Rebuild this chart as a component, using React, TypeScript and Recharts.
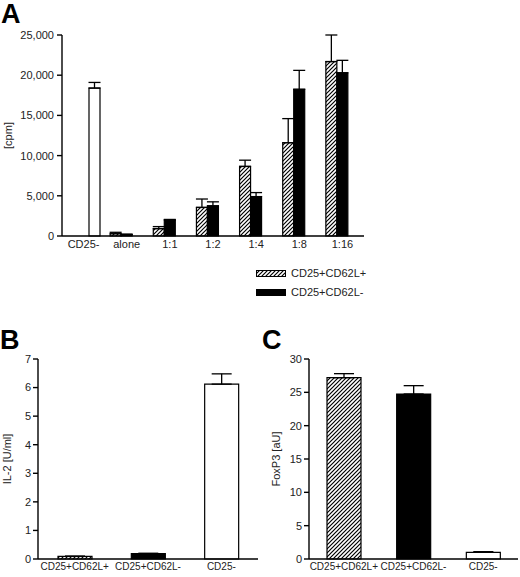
import { Bar, BarChart, Cell, ErrorBar, XAxis, YAxis } from 'recharts';

// Panel A: proliferation [cpm]
const ratioLabels = ['CD25-', 'alone', '1:1', '1:2', '1:4', '1:8', '1:16'];
const plusCpm = [null, 280, 920, 3550, 8650, 11600, 21700];
const plusCpmErr = [null, 180, 250, 1050, 780, 3000, 3300];
const minusCpm = [null, 180, 1980, 3750, 4900, 18250, 20300];
const minusCpmErr = [null, 60, 80, 500, 500, 2350, 1550];
const negCpm = [18400, null, null, null, null, null, null];
const negCpmErr = [700, null, null, null, null, null, null];
const cpmTicks = [0, 5000, 10000, 15000, 20000, 25000];

// Panels B and C
const subsetLabels = ['CD25+CD62L+', 'CD25+CD62L-', 'CD25-'];
const il2 = [0.09, 0.19, 6.12];
const il2Err = [0.01, 0.01, 0.36];
const il2Ticks = [0, 1, 2, 3, 4, 5, 6, 7];
const foxp3 = [27.2, 24.75, 1.0];
const foxp3Err = [0.6, 1.25, 0.1];
const foxp3Ticks = [0, 5, 10, 15, 20, 25, 30];

const FONT = '"Liberation Sans", Arial, sans-serif';
const tick = { fontSize: 11, fill: '#222', fontFamily: FONT };
const xTick = { fontSize: 10, fill: '#222', fontFamily: FONT };
const axisStroke = { stroke: '#000', strokeWidth: 1.4 };

const up = (e: number | null) => (e == null ? null : [0, e]);

const cpmData = ratioLabels.map((label, i) => ({
  label,
  plus: plusCpm[i],
  plusErr: up(plusCpmErr[i]),
  minus: minusCpm[i],
  minusErr: up(minusCpmErr[i]),
  neg: negCpm[i],
  negErr: up(negCpmErr[i]),
}));

const il2Data = subsetLabels.map((label, i) => ({ label, value: il2[i], err: up(il2Err[i]) }));
const foxData = subsetLabels.map((label, i) => ({ label, value: foxp3[i], err: up(foxp3Err[i]) }));

const fills = (id: string) => [`url(#${id})`, '#000', '#fff'];

function Hatch({ id }: { id: string }) {
  return (
    <defs>
      <pattern id={id} patternUnits="userSpaceOnUse" width={4} height={4}>
        <rect width={4} height={4} fill="#fff" />
        <path d="M-1,1 l2,-2 M0,4 l4,-4 M3,5 l2,-2" stroke="#000" strokeWidth={1.2} />
      </pattern>
    </defs>
  );
}

function yTitle(text: string, dx: number) {
  return {
    content: (p: any) => {
      const vb = p.viewBox || {};
      const x = (vb.x ?? 0) + dx;
      const y = (vb.y ?? 0) + (vb.height ?? 0) / 2;
      return (
        <text
          x={x}
          y={y}
          transform={`rotate(-90 ${x} ${y})`}
          textAnchor="middle"
          dominantBaseline="central"
          fontSize={11}
          fontFamily={FONT}
          fill="#222"
        >
          {text}
        </text>
      );
    },
  };
}

const letter = (ch: string, left: number, top: number) => (
  <div
    style={{
      position: 'absolute',
      left,
      top,
      fontFamily: FONT,
      fontWeight: 700,
      fontSize: 27,
      lineHeight: 1,
      color: '#000',
    }}
  >
    {ch}
  </div>
);

function SubsetChart({
  id,
  data,
  ticks,
  max,
  yWidth,
  title,
  titleDx,
}: {
  id: string;
  data: { label: string; value: number; err: number[] | null }[];
  ticks: number[];
  max: number;
  yWidth: number;
  title: string;
  titleDx: number;
}) {
  const f = fills(id);
  return (
    <BarChart width={260} height={277} data={data} margin={{ top: 59, right: 2, bottom: 0, left: 0 }}>
      <Hatch id={id} />
      <XAxis
        dataKey="label"
        stroke="#000"
        tickLine={false}
        tickSize={0}
        tickMargin={4}
        height={18}
        interval={0}
        axisLine={axisStroke}
        tick={xTick}
      />
      <YAxis
        width={yWidth}
        stroke="#000"
        domain={[0, max]}
        ticks={ticks}
        interval={0}
        tickSize={5}
        tickMargin={2}
        axisLine={axisStroke}
        tickLine={axisStroke}
        tick={tick}
        label={yTitle(title, titleDx)}
      />
      <Bar dataKey="value" barSize={34} stroke="#000" strokeWidth={1.2} isAnimationActive={false}>
        {data.map((d, i) => (
          <Cell key={d.label} fill={f[i]} />
        ))}
        <ErrorBar dataKey="err" width={10} stroke="#000" strokeWidth={1.3} direction="y" />
      </Bar>
    </BarChart>
  );
}

export default function App() {
  return (
    <div style={{ position: 'absolute', left: 0, top: 0, width: 520, height: 577, background: '#fff', fontFamily: FONT }}>
      {letter('A', 1, 1)}
      <div style={{ position: 'absolute', left: 0, top: 0 }}>
        <BarChart
          width={380}
          height={260}
          data={cpmData}
          barGap={0}
          margin={{ top: 35, right: 16, bottom: 4, left: 0 }}
        >
          <Hatch id="hatchA" />
          <XAxis
            dataKey="label"
            stroke="#000"
            tickLine={false}
            tickSize={0}
            tickMargin={4}
            height={20}
            interval={0}
            axisLine={axisStroke}
            tick={tick}
          />
          <YAxis
            width={62}
            stroke="#000"
            domain={[0, 25000]}
            ticks={cpmTicks}
            interval={0}
            tickSize={5}
            tickMargin={3}
            axisLine={axisStroke}
            tickLine={axisStroke}
            tick={tick}
            tickFormatter={(v: number) => v.toLocaleString('en-US')}
            label={yTitle('[cpm]', 8)}
          />
          <Bar dataKey="plus" barSize={11} fill="url(#hatchA)" stroke="#000" strokeWidth={1.2} isAnimationActive={false}>
            <ErrorBar dataKey="plusErr" width={6} stroke="#000" strokeWidth={1.3} direction="y" />
          </Bar>
          <Bar dataKey="minus" barSize={11} fill="#000" stroke="#000" strokeWidth={1.2} isAnimationActive={false}>
            <ErrorBar dataKey="minusErr" width={6} stroke="#000" strokeWidth={1.3} direction="y" />
          </Bar>
          <Bar dataKey="neg" barSize={11} fill="#fff" stroke="#000" strokeWidth={1.2} isAnimationActive={false}>
            <ErrorBar dataKey="negErr" width={6} stroke="#000" strokeWidth={1.3} direction="y" />
          </Bar>
        </BarChart>
      </div>

      <div style={{ position: 'absolute', left: 256, top: 264, fontSize: 11, color: '#222', lineHeight: '19px' }}>
        <div style={{ display: 'flex', alignItems: 'center' }}>
          <svg width={31} height={8} style={{ marginRight: 4 }}>
            <Hatch id="hatchLeg" />
            <rect x={0.5} y={0.5} width={29} height={6} fill="url(#hatchLeg)" stroke="#000" />
          </svg>
          <span>CD25+CD62L+</span>
        </div>
        <div style={{ display: 'flex', alignItems: 'center' }}>
          <svg width={31} height={8} style={{ marginRight: 4 }}>
            <rect x={0.5} y={0.5} width={29} height={6} fill="#000" stroke="#000" />
          </svg>
          <span>CD25+CD62L-</span>
        </div>
      </div>

      {letter('B', 0, 327)}
      <div style={{ position: 'absolute', left: 0, top: 300 }}>
        <SubsetChart id="hatchB" data={il2Data} ticks={il2Ticks} max={7} yWidth={38} title="IL-2 [U/ml]" titleDx={7} />
      </div>

      {letter('C', 262, 327)}
      <div style={{ position: 'absolute', left: 260, top: 300 }}>
        <SubsetChart id="hatchC" data={foxData} ticks={foxp3Ticks} max={30} yWidth={49} title="FoxP3 [aU]" titleDx={16} />
      </div>
    </div>
  );
}
